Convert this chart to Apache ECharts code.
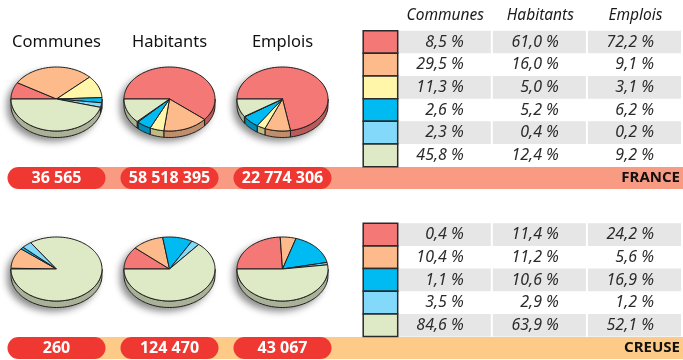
<!DOCTYPE html>
<html>
<head>
<meta charset="utf-8">
<script src="https://cdn.jsdelivr.net/npm/echarts@6/dist/echarts.min.js"></script>
<style>
  html, body { margin: 0; padding: 0; background: #fff; }
  #chart { width: 683px; height: 360px; }
</style>
</head>
<body>
<div id="chart"></div>
<script>
// Column headings (pie titles and table headers)
const pieTitles = ['Communes', 'Habitants', 'Emplois'];
const regions = ['FRANCE', 'CREUSE'];

// Shares (%) per category, France: 6 categories
const franceCommunes  = [8.5, 29.5, 11.3, 2.6, 2.3, 45.8];
const franceHabitants = [61.0, 16.0, 5.0, 5.2, 0.4, 12.4];
const franceEmplois   = [72.2, 9.1, 3.1, 6.2, 0.2, 9.2];

// Shares (%) per category, Creuse: 5 categories
const creuseCommunes  = [0.4, 10.4, 1.1, 3.5, 84.6];
const creuseHabitants = [11.4, 11.2, 10.6, 2.9, 63.9];
const creuseEmplois   = [24.2, 5.6, 16.9, 1.2, 52.1];

// Totals shown in the pills
const franceTotals = ['36 565', '58 518 395', '22 774 306'];
const creuseTotals = ['260', '124 470', '43 067'];

// Category colours
const franceColors = ['#f47876', '#fdbb8b', '#fff6aa', '#00bbf1', '#82d9f9', '#dee9c5'];
const creuseColors = ['#f47876', '#fdbb8b', '#00bbf1', '#82d9f9', '#dee9c5'];
const bandColors = ['#f99b82', '#fdca88'];

const shares = [
  [franceCommunes, franceHabitants, franceEmplois],
  [creuseCommunes, creuseHabitants, creuseEmplois]
];
const sliceColors = [franceColors, creuseColors];
const totals = [franceTotals, creuseTotals];

// Pie geometry (tilted disc)
const RX = 45.5, RY = 32, DEPTH = 6.5;
const EDGE = '#1e1e1e';
const W = 683;

function darken(hex, k) {
  const n = parseInt(hex.slice(1), 16);
  const r = Math.round(((n >> 16) & 255) * k);
  const g = Math.round(((n >> 8) & 255) * k);
  const b = Math.round((n & 255) * k);
  return 'rgb(' + r + ',' + g + ',' + b + ')';
}

function rimArc(cx, cy, s, e, dy) {
  const n = Math.max(2, Math.ceil((e - s) / (Math.PI / 90)));
  const pts = [];
  for (let i = 0; i <= n; i++) {
    const a = s + (e - s) * i / n;
    pts.push([cx + RX * Math.cos(a), cy + RY * Math.sin(a) + dy]);
  }
  return pts;
}

// Slice records: [col, region, startFrac, endFrac, colourIndex]
const sliceData = [];
const pieCells = [];
shares.forEach((regionShares, r) => {
  regionShares.forEach((vals, c) => {
    pieCells.push([c, r]);
    let cum = 0;
    vals.forEach((v, i) => {
      sliceData.push([c, r, cum / 100, (cum + v) / 100, i]);
      cum += v;
    });
  });
});

// Table cells: [col, row, value]
function tableData(regionShares) {
  const out = [];
  regionShares.forEach((vals, c) => vals.forEach((v, row) => out.push([c, row, v])));
  return out;
}
const fmt = v => v.toFixed(1).replace('.', ',') + ' %';

function rowsOf(n) { return Array.from({ length: n }, (_, i) => String(i)); }

function tableRenderer(regionIndex) {
  return function (params, api) {
    const c = api.value(0), row = api.value(1), v = api.value(2);
    const p = api.coord([c, row]);
    const size = api.size([1, 1]);
    const bw = size[0], bh = size[1];
    const x0 = p[0] - bw / 2, y0 = p[1] - bh / 2;
    const children = [];
    if (row % 2 === 0) {
      children.push({ type: 'rect', shape: { x: x0, y: y0, width: bw - 2, height: bh },
        style: { fill: '#e6e6e6' } });
    }
    children.push({ type: 'text', style: {
      text: fmt(v), x: x0 + bw - 2 - 27, y: p[1], align: 'right', verticalAlign: 'middle',
      font: 'italic 16px "Noto Sans"', fill: '#2b2b2b' } });
    if (c === 0) {
      children.push({ type: 'rect', shape: { x: x0 - 34.5, y: y0, width: 34.5, height: bh },
        style: { fill: sliceColors[regionIndex][row], stroke: '#2a2a2a', lineWidth: 1.5 } });
    }
    return { type: 'group', children };
  };
}

const chart = echarts.init(document.getElementById('chart'), null, { renderer: 'canvas' });
chart.setOption({
  animation: false,
  textStyle: { fontFamily: 'Noto Sans' },
  grid: [
    { left: -1, top: 14, width: 340, height: 340 },
    { left: 397.7, top: 30.7, width: 296.7, height: 136 },
    { left: 397.7, top: 223.3, width: 296.7, height: 113.3 }
  ],
  xAxis: [
    { gridIndex: 0, type: 'category', data: pieTitles, position: 'top', offset: -37,
      axisLine: { show: false }, axisTick: { show: false }, splitLine: { show: false },
      axisLabel: { interval: 0, hideOverlap: false, margin: 0, fontSize: 16.5, color: '#111', fontFamily: 'Noto Sans' } },
    { gridIndex: 1, type: 'category', data: pieTitles, position: 'top',
      axisLine: { show: false }, axisTick: { show: false }, splitLine: { show: false },
      axisLabel: { interval: 0, hideOverlap: false, margin: 7, fontSize: 15.5, fontStyle: 'italic', color: '#1a1a1a', fontFamily: 'Noto Sans' } },
    { gridIndex: 2, type: 'category', data: pieTitles, show: false }
  ],
  yAxis: [
    { gridIndex: 0, type: 'category', data: regions, inverse: true, show: false },
    { gridIndex: 1, type: 'category', data: rowsOf(6), inverse: true, show: false },
    { gridIndex: 2, type: 'category', data: rowsOf(5), inverse: true, show: false }
  ],
  series: [
    // Region bands with name
    {
      type: 'custom', xAxisIndex: 0, yAxisIndex: 0, clip: false, z: 1,
      data: regions.map((_, r) => [1, r]),
      renderItem: function (params, api) {
        const r = api.value(1);
        const p = api.coord([1, r]);
        const y = p[1] + 79;
        return { type: 'group', children: [
          { type: 'rect', shape: { x: 40, y: y - 11, width: W - 40, height: 22 },
            style: { fill: bandColors[r] } },
          { type: 'text', style: { text: regions[r], x: W - 3, y: y, align: 'right',
            verticalAlign: 'middle', font: 'bold 15px "Noto Sans"', fill: '#111' } }
        ] };
      }
    },
    // Totals pills
    {
      type: 'custom', xAxisIndex: 0, yAxisIndex: 0, clip: false, z: 2,
      data: pieCells,
      renderItem: function (params, api) {
        const c = api.value(0), r = api.value(1);
        const p = api.coord([c, r]);
        const y = p[1] + 79;
        return { type: 'group', children: [
          { type: 'rect', shape: { x: p[0] - 49, y: y - 11, width: 98, height: 22, r: 11 },
            style: { fill: '#ee3831' } },
          { type: 'text', style: { text: totals[r][c], x: p[0], y: y + 0.5, align: 'center',
            verticalAlign: 'middle', font: 'bold 16px "Noto Sans"', fill: '#fff' } }
        ] };
      }
    },
    // Drop shadow under each disc
    {
      type: 'custom', xAxisIndex: 0, yAxisIndex: 0, clip: false, z: 3,
      data: pieCells,
      renderItem: function (params, api) {
        const p = api.coord([api.value(0), api.value(1)]);
        const pts = rimArc(p[0], p[1], Math.PI, 2 * Math.PI, 0)
          .concat(rimArc(p[0], p[1], 0, Math.PI, DEPTH));
        return { type: 'polygon', shape: { points: pts },
          style: { fill: '#9a9a9a', shadowBlur: 7, shadowColor: 'rgba(0,0,0,0.45)',
            shadowOffsetX: -4, shadowOffsetY: 4 } };
      }
    },
    // Pie slices: side wall + top face
    {
      type: 'custom', xAxisIndex: 0, yAxisIndex: 0, clip: false, z: 4,
      data: sliceData,
      renderItem: function (params, api) {
        const c = api.value(0), r = api.value(1);
        const f0 = api.value(2), f1 = api.value(3), ci = api.value(4);
        const p = api.coord([c, r]);
        const cx = p[0], cy = p[1];
        const color = sliceColors[r][ci];
        const a0 = Math.PI + 2 * Math.PI * f0;
        const a1 = Math.PI + 2 * Math.PI * f1;
        const children = [];
        const s = Math.max(a0, 2 * Math.PI), e = Math.min(a1, 3 * Math.PI);
        if (e > s) {
          const wall = rimArc(cx, cy, s, e, 0).concat(rimArc(cx, cy, s, e, DEPTH).reverse());
          children.push({ type: 'polygon', shape: { points: wall },
            style: { fill: darken(color, 0.76), stroke: EDGE, lineWidth: 1, lineJoin: 'round' } });
        }
        const top = [[cx, cy]].concat(rimArc(cx, cy, a0, a1, 0));
        children.push({ type: 'polygon', shape: { points: top },
          style: { fill: color, stroke: EDGE, lineWidth: 1, lineJoin: 'round' } });
        return { type: 'group', children };
      }
    },
    // France table
    {
      type: 'custom', xAxisIndex: 1, yAxisIndex: 1, clip: false, z: 2,
      data: tableData(shares[0]),
      renderItem: tableRenderer(0)
    },
    // Creuse table
    {
      type: 'custom', xAxisIndex: 2, yAxisIndex: 2, clip: false, z: 2,
      data: tableData(shares[1]),
      renderItem: tableRenderer(1)
    }
  ]
});
</script>
</body>
</html>
